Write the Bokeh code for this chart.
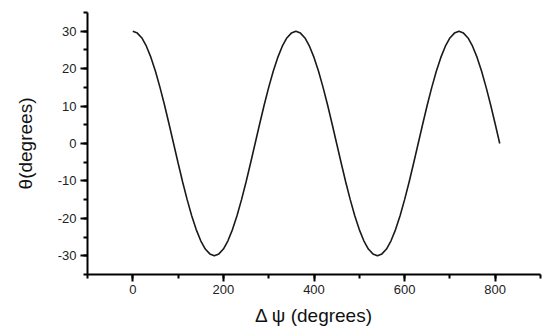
from bokeh.plotting import figure
from bokeh.models import SingleIntervalTicker, Range1d, PrintfTickFormatter
from bokeh.embed import file_html
from bokeh.resources import INLINE

# Data
dpsi = list(range(0, 820, 10))
theta = [30, 29.5, 28.2, 26, 23, 19.3, 15, 10.3, 5.2, 0, -5.2, -10.3, -15, -19.3, -23, -26, -28.2, -29.5, -30,
         -29.5, -28.2, -26, -23, -19.3, -15, -10.3, -5.2, 0, 5.2, 10.3, 15, 19.3, 23, 26, 28.2, 29.5, 30,
         29.5, 28.2, 26, 23, 19.3, 15, 10.3, 5.2, 0, -5.2, -10.3, -15, -19.3, -23, -26, -28.2, -29.5, -30,
         -29.5, -28.2, -26, -23, -19.3, -15, -10.3, -5.2, 0, 5.2, 10.3, 15, 19.3, 23, 26, 28.2, 29.5, 30,
         29.5, 28.2, 26, 23, 19.3, 15, 10.3, 5.2, 0]
x_label = "Δ ψ (degrees)"
y_label = "θ(degrees)"

p = figure(width=548, height=328, output_backend="svg", toolbar_location=None,
           x_range=Range1d(-100, 900), y_range=Range1d(-35, 35),
           min_border_left=87, min_border_right=8, min_border_top=12, min_border_bottom=51)
p.line(dpsi, theta, line_color="#1a1a1a", line_width=1.6)

p.grid.visible = False
p.outline_line_color = None
p.background_fill_color = "white"

p.xaxis.ticker = SingleIntervalTicker(interval=200, num_minor_ticks=2)
p.yaxis.ticker = SingleIntervalTicker(interval=10, num_minor_ticks=2)
p.xaxis.formatter = PrintfTickFormatter(format="%d")
p.yaxis.formatter = PrintfTickFormatter(format="%d")

for ax in (p.xaxis[0], p.yaxis[0]):
    ax.axis_line_width = 2
    ax.axis_line_color = "black"
    ax.major_tick_line_width = 2
    ax.minor_tick_line_width = 2
    ax.major_tick_line_color = "black"
    ax.minor_tick_line_color = "black"
    ax.major_tick_out = 7
    ax.major_tick_in = 0
    ax.minor_tick_out = 4
    ax.minor_tick_in = 0
    ax.major_label_text_font = "Liberation Sans"
    ax.major_label_text_font_size = "13px"
    ax.major_label_text_color = "#222222"
    ax.axis_label_text_font = "Liberation Sans"
    ax.axis_label_text_font_size = "19px"
    ax.axis_label_text_font_style = "normal"
    ax.axis_label_text_color = "#111111"

p.xaxis.major_label_standoff = 3
p.yaxis.major_label_standoff = 4
p.xaxis.axis_label = x_label
p.yaxis.axis_label = y_label
p.xaxis.axis_label_standoff = 8
p.yaxis.axis_label_standoff = 19

open("out.html", "w").write(file_html(p, INLINE))
